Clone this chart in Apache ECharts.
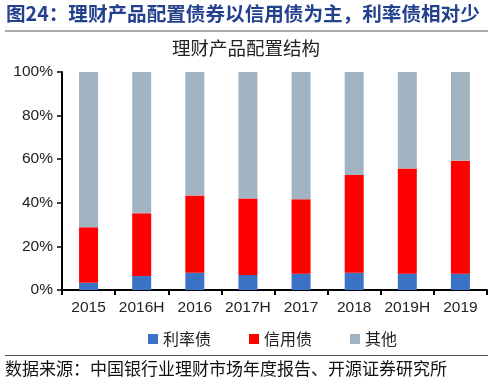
<!DOCTYPE html>
<html><head><meta charset="utf-8">
<script src="https://cdn.jsdelivr.net/npm/echarts@6/dist/echarts.min.js"></script>
<style>html,body{margin:0;padding:0;background:#fff}#c{width:500px;height:382px}</style>
</head><body><div id="c"></div>
<script>
const categories = ['2015','2016H','2016','2017H','2017','2018','2019H','2019'];
const rateBond = [3.3, 6.4, 7.9, 6.9, 7.5, 7.9, 7.5, 7.5];
const creditBond = [25.5, 28.8, 35.4, 35.1, 34.1, 44.9, 48.2, 51.8];
const others = [71.2, 64.8, 56.7, 58.0, 58.4, 47.2, 44.3, 40.7];
const seriesNames = ['利率债', '信用债', '其他'];
const yTicks = [0, 20, 40, 60, 80, 100];

const chart = echarts.init(document.getElementById('c'));
const cjk = '"Noto Sans CJK SC", sans-serif';
const lat = '"Liberation Sans", Arial, sans-serif';
chart.setOption({
  animation: false,
  grid: {left: 62, right: 13, top: 72, bottom: 92},
  graphic: [
    {type: 'text', left: 6, top: 4, style: {text: '图24：理财产品配置债券以信用债为主，利率债相对少', font: 'bold 19.6px ' + cjk, fill: '#24418E'}},
    {type: 'line', shape: {x1: 5, y1: 31, x2: 488, y2: 31}, style: {stroke: '#555', lineWidth: 1}},
    {type: 'text', left: 172, top: 39, style: {text: '理财产品配置结构', font: '18.5px ' + cjk, fill: '#222'}},
    {type: 'line', shape: {x1: 5, y1: 355.5, x2: 488, y2: 355.5}, style: {stroke: '#555', lineWidth: 1}},
    {type: 'text', left: 5, top: 360, style: {text: '数据来源：中国银行业理财市场年度报告、开源证券研究所', font: '17px ' + cjk, fill: '#111'}}
  ],
  legend: {
    data: seriesNames, top: 326, left: 143, icon: 'rect', itemWidth: 10, itemHeight: 10, itemGap: 38,
    textStyle: {fontFamily: cjk, fontSize: 16, color: '#222'}
  },
  xAxis: {
    type: 'category', data: categories,
    axisLine: {lineStyle: {color: '#000', width: 2}},
    axisTick: {show: true, length: 5, lineStyle: {color: '#000', width: 2}},
    axisLabel: {fontFamily: lat, fontSize: 15.5, color: '#222', margin: 10, interval: 0}
  },
  yAxis: {
    type: 'value', min: yTicks[0], max: yTicks[yTicks.length - 1], interval: 20,
    axisLine: {show: true, lineStyle: {color: '#000', width: 2}},
    axisTick: {show: true, length: 5, lineStyle: {color: '#000', width: 1.5}},
    splitLine: {show: false},
    axisLabel: {fontFamily: lat, fontSize: 15.5, color: '#222', formatter: '{value}%', margin: 9}
  },
  series: [
    {name: seriesNames[0], type: 'bar', stack: 's', data: rateBond, barWidth: 19, itemStyle: {color: '#3A73C6'}},
    {name: seriesNames[1], type: 'bar', stack: 's', data: creditBond, barWidth: 19, itemStyle: {color: '#FF0000'}},
    {name: seriesNames[2], type: 'bar', stack: 's', data: others, barWidth: 19, itemStyle: {color: '#A2B4C1'}}
  ]
});
</script></body></html>
